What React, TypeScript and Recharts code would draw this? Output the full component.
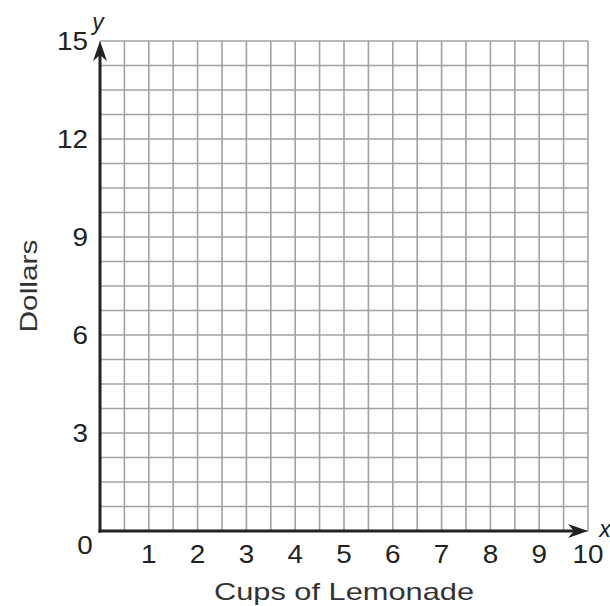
import { ScatterChart, Scatter, XAxis, YAxis, CartesianGrid, ReferenceLine, Label } from "recharts";

const xTicks = [0, 1, 2, 3, 4, 5, 6, 7, 8, 9, 10];
const yTicks = [3, 6, 9, 12, 15];
const gridX = [0, 0.5, 1, 1.5, 2, 2.5, 3, 3.5, 4, 4.5, 5, 5.5, 6, 6.5, 7, 7.5, 8, 8.5, 9, 9.5, 10];
const gridY = [0, 0.75, 1.5, 2.25, 3, 3.75, 4.5, 5.25, 6, 6.75, 7.5, 8.25, 9, 9.75, 10.5, 11.25, 12, 12.75, 13.5, 14.25, 15];
const points: { x: number; y: number }[] = [];

const FONT = "'Liberation Sans', Arial, sans-serif";
const INK = "#222";

const XTick = (props: any) => {
  const { x, y, payload } = props;
  const s = String(payload.value);
  const origin = payload.value === 0;
  return (
    <text
      x={origin ? x - 15 : x}
      y={origin ? y + 23 : y + 32}
      textAnchor="middle"
      fontFamily={FONT}
      fontSize={25}
      fill={INK}
      textLength={15.5 * s.length}
      lengthAdjust="spacingAndGlyphs"
    >
      {s}
    </text>
  );
};

const YTick = (props: any) => {
  const { x, y, payload } = props;
  const s = String(payload.value);
  return (
    <text
      x={x - 12}
      y={y + 9}
      textAnchor="end"
      fontFamily={FONT}
      fontSize={25}
      fill={INK}
      textLength={15.5 * s.length}
      lengthAdjust="spacingAndGlyphs"
    >
      {s}
    </text>
  );
};

const AxisArrow = (props: any) => {
  const { x1, y1, x2, y2, letter } = props;
  const dx = x2 - x1;
  const dy = y2 - y1;
  const len = Math.hypot(dx, dy) || 1;
  const ux = dx / len;
  const uy = dy / len;
  const px = -uy;
  const py = ux;
  const head = 20;
  const half = 7;
  const notch = 6;
  const bx = x2 - ux * head;
  const by = y2 - uy * head;
  const nx = x2 - ux * (head - notch);
  const ny = y2 - uy * (head - notch);
  const d = `M${x2},${y2} L${bx + px * half},${by + py * half} L${nx},${ny} L${bx - px * half},${by - py * half} Z`;
  const isX = letter === "x";
  return (
    <g>
      <line
        x1={x1 - ux * 1.5}
        y1={y1 - uy * 1.5}
        x2={nx}
        y2={ny}
        stroke={INK}
        strokeWidth={3}
      />
      <path d={d} fill={INK} />
      <text
        x={isX ? x2 + 17 : x2 - 2}
        y={isX ? y2 + 6 : y2 - 11}
        textAnchor="middle"
        fontFamily={FONT}
        fontStyle="italic"
        fontSize={23}
        fill={INK}
      >
        {letter}
      </text>
    </g>
  );
};

const XTitle = (props: any) => {
  const { viewBox } = props;
  const cx = viewBox.x + viewBox.width / 2;
  return (
    <text
      x={cx}
      y={viewBox.y + 69}
      textAnchor="middle"
      fontFamily={FONT}
      fontSize={24}
      fill="#333"
      textLength={260}
      lengthAdjust="spacingAndGlyphs"
    >
      Cups of Lemonade
    </text>
  );
};

const YTitle = (props: any) => {
  const { viewBox } = props;
  const cy = viewBox.y + viewBox.height / 2;
  const bx = 37;
  return (
    <text
      x={bx}
      y={cy}
      transform={`rotate(-90, ${bx}, ${cy})`}
      textAnchor="middle"
      fontFamily={FONT}
      fontSize={24}
      fill="#333"
      textLength={93}
      lengthAdjust="spacingAndGlyphs"
    >
      Dollars
    </text>
  );
};

export default function App() {
  return (
    <div style={{ position: "absolute", left: 0, top: 0, background: "#fff" }}>
      <ScatterChart width={610} height={606} margin={{ top: 41, right: 22, left: 0, bottom: 0 }}>
        <XAxis xAxisId="grid" type="number" dataKey="x" domain={[0, 10]} ticks={gridX} allowDataOverflow hide />
        <YAxis yAxisId="grid" type="number" dataKey="y" domain={[0, 15]} ticks={gridY} allowDataOverflow hide />
        <CartesianGrid xAxisId="grid" yAxisId="grid" stroke="#a2a2a2" strokeWidth={1.6} />
        <XAxis
          type="number"
          dataKey="x"
          domain={[0, 10]}
          ticks={xTicks}
          interval={0}
          allowDataOverflow
          height={75}
          axisLine={false}
          tickLine={false}
          tickSize={0}
          tickMargin={0}
          tick={<XTick />}
        >
          <Label content={<XTitle />} />
        </XAxis>
        <YAxis
          type="number"
          dataKey="y"
          domain={[0, 15]}
          ticks={yTicks}
          interval={0}
          allowDataOverflow
          width={100}
          axisLine={false}
          tickLine={false}
          tickSize={0}
          tickMargin={0}
          tick={<YTick />}
        >
          <Label content={<YTitle />} />
        </YAxis>
        <Scatter data={points} fill={INK} isAnimationActive={false} />
        <ReferenceLine
          segment={[{ x: 0, y: 0 }, { x: 10, y: 0 }]}
          ifOverflow="visible"
          shape={(p: any) => <AxisArrow {...p} letter="x" />}
        />
        <ReferenceLine
          segment={[{ x: 0, y: 0 }, { x: 0, y: 15 }]}
          ifOverflow="visible"
          shape={(p: any) => <AxisArrow {...p} letter="y" />}
        />
      </ScatterChart>
    </div>
  );
}
